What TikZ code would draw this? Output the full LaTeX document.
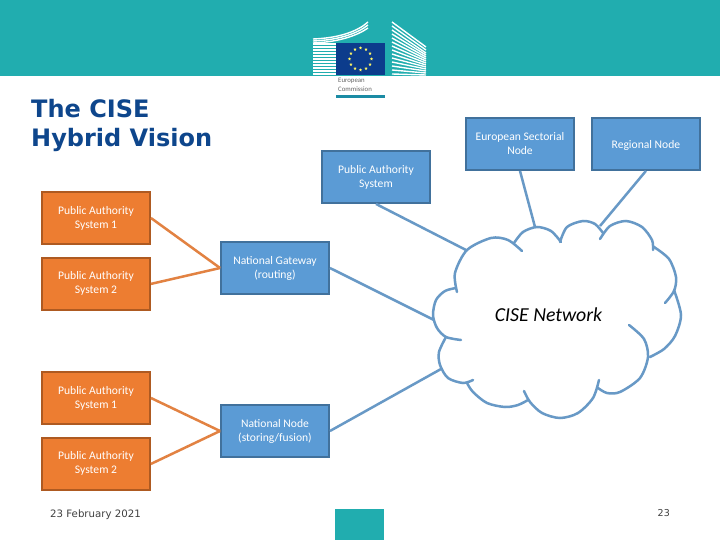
\documentclass[tikz,border=0pt]{standalone}
\usepackage{fontspec}
\setmainfont{Carlito}
\newfontfamily\slidefont{DejaVu Sans}
\usetikzlibrary{shapes.geometric, positioning, calc}
\definecolor{bandteal}{RGB}{33,173,175}
\definecolor{flagblue}{RGB}{12,60,140}
\definecolor{boxblue}{RGB}{91,155,213}
\definecolor{edgeblue}{RGB}{65,113,156}
\definecolor{boxorange}{RGB}{237,125,49}
\definecolor{edgeorange}{RGB}{174,90,33}
\definecolor{lineblue}{RGB}{104,153,198}
\definecolor{lineorange}{RGB}{226,130,66}
\definecolor{titleblue}{RGB}{14,70,140}
\begin{document}
\begin{tikzpicture}[x=1pt, y=-1pt,
  sysbox/.style={draw=edge#1, line width=1.9pt, fill=box#1, minimum width=108pt, minimum height=52pt, inner sep=0pt, align=center, font=\fontsize{11.6}{14}\selectfont, text=white, execute at begin node={\rule{0pt}{11pt}}},
  link/.style={line width=2.5pt, color=line#1},
  lobe/.style={line width=2.5pt, color=lineblue, line cap=round},
  slat/.style={white, line width=1.4pt},
  slidetxt/.style={font=\slidefont\fontsize{#1}{#1}\selectfont}
]
\useasboundingbox (0,0) rectangle (720,540);
\fill[white] (0,0) rectangle (720,540);
% header
\fill[bandteal] (0,0) rectangle (720,76);
\fill[bandteal] (335,509) rectangle (384,540);
\foreach \y in {44,47,...,74} \draw[slat] (313,\y) -- (336,\y);
\foreach \y/\e in {39/22,41/25,43/28} \draw[slat] (313,\y) .. controls (340,\y-1) and (358,\y-8) .. (368,\e);
\foreach \a/\b in {22/47,26/50,30/53,34/55,38/57,42/59,46/61,50/63,54/65,58/67,62/69,66/71,70/73,74/75} \draw[slat] (392,\a) -- (426,\b);
\fill[flagblue] (336,43) rectangle (385,75);
\foreach \i in {0,30,...,330} \node[star, star points=5, star point ratio=2.4, fill=yellow!60!white, inner sep=0pt, minimum size=3.4pt] (flagstar\i) at ($(360.5,59)+(\i:11pt)$) {};
\node[font=\fontsize{6.8}{8.5}\selectfont, text=black!60, align=left, anchor=north west, inner sep=0pt] (ectext) at (338,78) {European\\Commission};
\fill[bandteal!70!flagblue] (336,95) rectangle (385,98);
% title and footer
\node[font=\slidefont\bfseries\fontsize{24}{29}\selectfont, text=titleblue, align=left, anchor=north west, inner sep=0pt] (title) at (31,99) {The CISE\\Hybrid Vision};
\node[slidetxt=10.2, text=black!75, anchor=west, inner sep=0pt] (date) at (50,514.5) {23 February 2021};
\node[slidetxt=9.5, text=black!75, anchor=east, inner sep=0pt] (pagenum) at (670,513) {23};
% boxes
\node[sysbox=blue] (topsys) at (376,177) {Public Authority\\System};
\node[sysbox=blue] (sectorial) at (520,144) {European Sectorial\\Node};
\node[sysbox=blue, right=16pt of sectorial] (regional) {Regional Node};
\node[sysbox=orange] (sysa) at (96,218) {Public Authority\\System 1};
\node[sysbox=orange, below=12pt of sysa] (sysb) {Public Authority\\System 2};
\node[sysbox=blue] (gateway) at (275,268) {National Gateway\\(routing)};
\node[sysbox=orange] (sysc) at (96,398) {Public Authority\\System 1};
\node[sysbox=orange, below=12pt of sysc] (sysd) {Public Authority\\System 2};
\node[sysbox=blue] (natnode) at (275,431) {National Node\\(storing/fusion)};
% cloud
\draw[lobe] plot[smooth] coordinates {(457,292) (455,273) (467,250) (491,238) (508,240) (522,251)};
\draw[lobe] plot[smooth] coordinates {(514,243) (523,232) (537,227) (551,231) (561,242)};
\draw[lobe] plot[smooth] coordinates {(560,242) (567,227) (583,221) (595,224) (603,233)};
\draw[lobe] plot[smooth] coordinates {(600,239) (610,226) (626,221) (642,227) (652,240) (653,250)};
\draw[lobe] plot[smooth] coordinates {(654,247) (669,259) (676,277) (674,291) (665,303)};
\draw[lobe] plot[smooth] coordinates {(674,290) (681,315) (675,336) (664,349) (650,357)};
\draw[lobe] plot[smooth] coordinates {(629,325) (644,339) (648,357) (640,378) (620,392) (607,393) (598,388)};
\draw[lobe] plot[smooth] coordinates {(599,380) (593,398) (578,413) (560,418) (542,413) (530,402) (524,391)};
\draw[lobe] plot[smooth] coordinates {(528,400) (518,405) (505,407) (487,403) (473,392) (467,383)};
\draw[lobe] plot[smooth] coordinates {(473,380) (463,383) (448,378) (440,365) (439,352) (446,337)};
\draw[lobe] plot[smooth] coordinates {(456,288) (445,291) (436,300) (433,315) (437,328) (446,337) (461,340)};
\node[font=\fontsize{19.8}{22}\selectfont\itshape, inner sep=0pt] (cise) at (548.5,314.5) {CISE Network};
\coordinate (cloudtl) at (466,250);
\coordinate (cloudl) at (434,320);
\coordinate (cloudbl) at (441,369);
\coordinate (cloudt) at (535,227);
\coordinate (cloudtr) at (600,226);
% links
\draw[link=orange] (sysa.east) -- (gateway.west);
\draw[link=orange] (sysb.east) -- (gateway.west);
\draw[link=orange] (sysc.east) -- (natnode.west);
\draw[link=orange] (sysd.east) -- (natnode.west);
\draw[link=blue] (topsys.south) -- (cloudtl);
\draw[link=blue] (gateway.east) -- (cloudl);
\draw[link=blue] (natnode.east) -- (cloudbl);
\draw[link=blue] (sectorial.south) -- (cloudt);
\draw[link=blue] (regional.south) -- (cloudtr);
\end{tikzpicture}
\end{document}
